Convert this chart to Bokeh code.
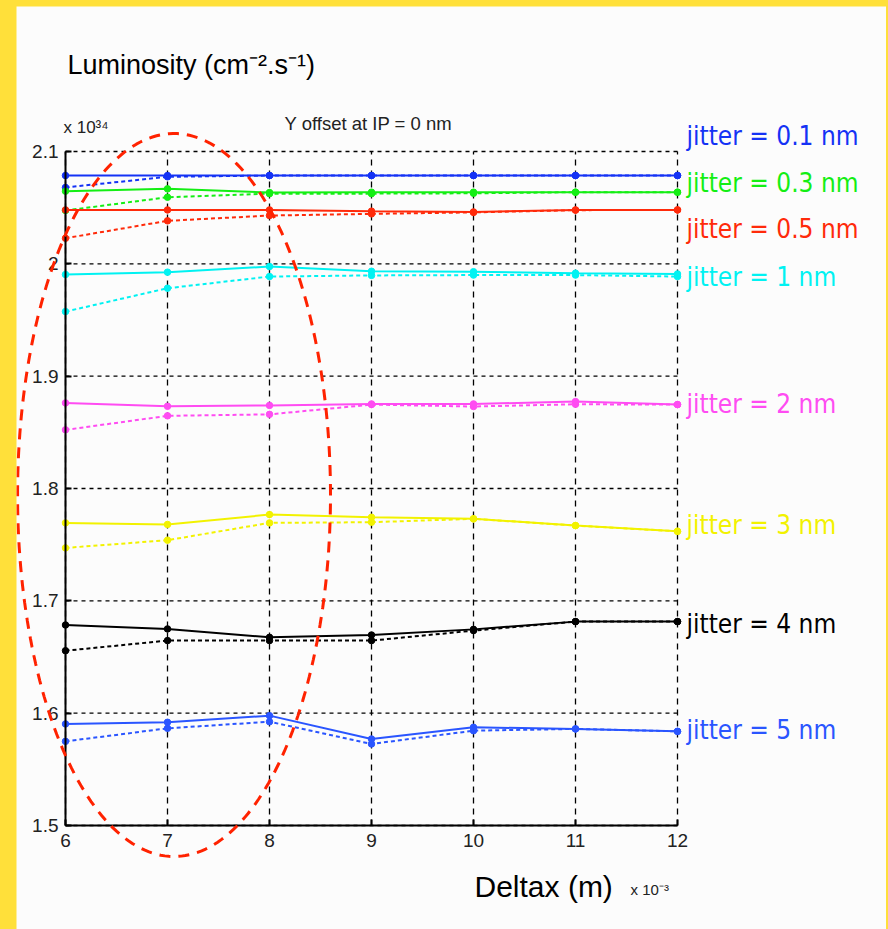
import numpy as np
from bokeh.plotting import figure
from bokeh.models import Label, PolyAnnotation, FixedTicker
from bokeh.layouts import column
from bokeh.embed import file_html
from bokeh.resources import INLINE

# ---------------- data ----------------
deltax = [6, 7, 8, 9, 10, 11, 12]  # x 1e-3 m

jitter_names = ["jitter = 0.1 nm", "jitter = 0.3 nm", "jitter = 0.5 nm", "jitter = 1 nm",
                "jitter = 2 nm", "jitter = 3 nm", "jitter = 4 nm", "jitter = 5 nm"]

lum_solid_01 = [2.0786, 2.0786, 2.0786, 2.0786, 2.0786, 2.0786, 2.0786]
lum_dash_01 = [2.0680, 2.0775, 2.0786, 2.0786, 2.0786, 2.0786, 2.0786]
lum_solid_03 = [2.0647, 2.0668, 2.0635, 2.0638, 2.0638, 2.0638, 2.0638]
lum_dash_03 = [2.0475, 2.0593, 2.0625, 2.0625, 2.0628, 2.0638, 2.0638]
lum_solid_05 = [2.0480, 2.0480, 2.0480, 2.0469, 2.0462, 2.0480, 2.0480]
lum_dash_05 = [2.0228, 2.0383, 2.0430, 2.0445, 2.0458, 2.0478, 2.0480]
lum_solid_1 = [1.9905, 1.9926, 1.9976, 1.9934, 1.9930, 1.9917, 1.9910]
lum_dash_1 = [1.9575, 1.9783, 1.9887, 1.9897, 1.9900, 1.9900, 1.9887]
lum_solid_2 = [1.8762, 1.8732, 1.8740, 1.8753, 1.8753, 1.8774, 1.8747]
lum_dash_2 = [1.8522, 1.8647, 1.8660, 1.8747, 1.8730, 1.8750, 1.8747]
lum_solid_3 = [1.7694, 1.7680, 1.7768, 1.7744, 1.7730, 1.7670, 1.7619]
lum_dash_3 = [1.7471, 1.7540, 1.7694, 1.7700, 1.7730, 1.7670, 1.7619]
lum_solid_4 = [1.6785, 1.6750, 1.6675, 1.6696, 1.6746, 1.6815, 1.6815]
lum_dash_4 = [1.6556, 1.6646, 1.6646, 1.6646, 1.6735, 1.6815, 1.6815]
lum_solid_5 = [1.5904, 1.5919, 1.5978, 1.5770, 1.5874, 1.5860, 1.5838]
lum_dash_5 = [1.5749, 1.5865, 1.5924, 1.5726, 1.5844, 1.5860, 1.5838]

y_ticks = [1.5, 1.6, 1.7, 1.8, 1.9, 2.0, 2.1]
y_tick_labels = ["1.5", "1.6", "1.7", "1.8", "1.9", "2", "2.1"]
x_tick_labels = ["6", "7", "8", "9", "10", "11", "12"]

solids = [lum_solid_01, lum_solid_03, lum_solid_05, lum_solid_1,
          lum_solid_2, lum_solid_3, lum_solid_4, lum_solid_5]
dashes = [lum_dash_01, lum_dash_03, lum_dash_05, lum_dash_1,
          lum_dash_2, lum_dash_3, lum_dash_4, lum_dash_5]

# ---------------- styles / layout ----------------
colors = ["#1432F5", "#14EE14", "#FF2A0A", "#00F2F2", "#FF4CF2", "#F2F200", "#000000", "#2A55FF"]
label_y = [2.1142, 2.0724, 2.0314, 1.9887, 1.8756, 1.7679, 1.6797, 1.5853]

AXFONT = "Liberation Sans"
JFONT = "DejaVu Sans Condensed"

x0, x1 = deltax[0], deltax[-1]
y0, y1 = y_ticks[0], y_ticks[-1]

# the frame spans the whole white panel; the data box (6..12, 1.5..2.1) sits inside it
p = figure(frame_width=870, frame_height=923,
           x_range=(5.5196, 14.049), y_range=(1.40742, 2.2291),
           output_backend="svg", toolbar_location=None,
           min_border=0,
           background_fill_color="#FCFCFC", border_fill_color="#FCFCFC",
           outline_line_color=None)
p.margin = (6, 2, 0, 16)
p.xgrid.visible = False
p.ygrid.visible = False

# axes fixed at the data box edges
p.xaxis.ticker = FixedTicker(ticks=deltax)
p.xaxis.major_label_overrides = {t: s for t, s in zip(deltax, x_tick_labels)}
p.xaxis.fixed_location = y0
p.xaxis.bounds = (x0, x1)
p.yaxis.ticker = FixedTicker(ticks=y_ticks)
p.yaxis.major_label_overrides = {t: s for t, s in zip(y_ticks, y_tick_labels)}
p.yaxis.fixed_location = x0
p.yaxis.bounds = (y0, y1)
for ax in (p.xaxis, p.yaxis):
    ax.axis_line_color = "black"
    ax.axis_line_width = 2
    ax.major_tick_line_color = "black"
    ax.major_tick_line_width = 2
    ax.major_tick_in = 6
    ax.major_tick_out = 0
    ax.minor_tick_line_color = None
    ax.major_label_text_font = AXFONT
    ax.major_label_text_font_size = "19px"
    ax.major_label_text_color = "#222222"
p.xaxis.major_label_standoff = 8
p.yaxis.major_label_standoff = 7

# dashed grid inside the data box
p.segment(x0=deltax, y0=[y0] * len(deltax), x1=deltax, y1=[y1] * len(deltax),
          line_color="black", line_width=1.3, line_dash="6 5", level="underlay")
p.segment(x0=[x0] * len(y_ticks), y0=y_ticks, x1=[x1] * len(y_ticks), y1=y_ticks,
          line_color="black", line_width=1.3, line_dash="4 4", level="underlay")

# series
for sol, das, c in zip(solids, dashes, colors):
    p.line(deltax, das, line_color=c, line_width=2, line_dash="4 3")
    p.line(deltax, sol, line_color=c, line_width=2)
    p.scatter(deltax, das, marker="circle", size=6.5, color=c)
    p.scatter(deltax, sol, marker="circle", size=6.5, color=c)

# jitter labels
for name, ly, c in zip(jitter_names, label_y, colors):
    p.add_layout(Label(x=12.088, y=ly, text=name, text_color=c, text_font=JFONT,
                       text_font_size="26px", text_baseline="middle", text_align="left"))

# texts
p.add_layout(Label(x=6.02, y=2.1766, text="Luminosity (cm\u207b\u00b2.s\u207b\u00b9)",
                   text_font=AXFONT, text_font_size="27px", text_color="black",
                   text_baseline="middle"))
p.add_layout(Label(x=5.98, y=2.1215, text="x 10\u00b3\u2074",
                   text_font=AXFONT, text_font_size="17px", text_color="#222222",
                   text_baseline="middle"))
p.add_layout(Label(x=8.97, y=2.125, text="Y offset at IP = 0 nm",
                   text_font=AXFONT, text_font_size="18.5px", text_color="#222222",
                   text_baseline="middle", text_align="center"))
p.add_layout(Label(x=10.01, y=1.4457, text="Deltax (m)",
                   text_font=AXFONT, text_font_size="30px", text_color="black",
                   text_baseline="middle"))
p.add_layout(Label(x=11.54, y=1.443, text="x 10\u207b\u00b3",
                   text_font=AXFONT, text_font_size="15px", text_color="#222222",
                   text_baseline="middle"))

# dashed red ellipse (highlight)
t = np.linspace(0, 2 * np.pi, 240)
ex = 7.064 + 1.534 * np.cos(t)
ey = 1.7942 + 0.3218 * np.sin(t)
p.add_layout(PolyAnnotation(xs=list(ex), ys=list(ey), xs_units="data", ys_units="data",
                            fill_color=None, fill_alpha=0, line_color="#FF2200",
                            line_alpha=1.0, line_width=3, line_dash="11 8", level="overlay"))

root = column(p, styles={"background-color": "#FFE03A"})
open("out.html", "w").write(file_html(root, INLINE))
